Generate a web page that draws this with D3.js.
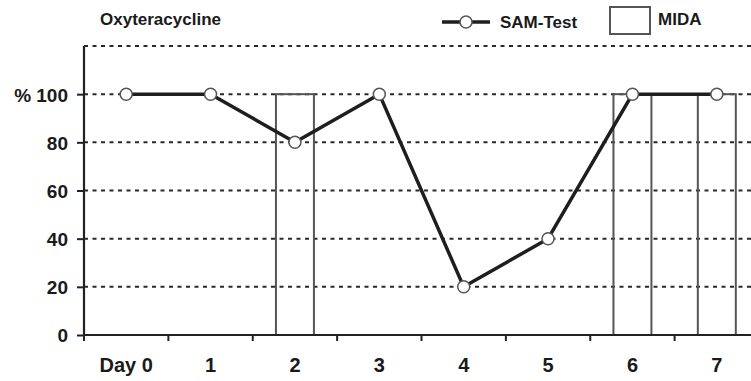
<!DOCTYPE html>
<html><head><meta charset="utf-8">
<script src="https://cdn.jsdelivr.net/npm/d3@7/dist/d3.min.js"></script>
<style>
html,body{margin:0;padding:0;background:#fff;}
svg{display:block;}
text{font-family:"Liberation Sans",Arial,sans-serif;font-weight:bold;fill:#1a1a1a;}
</style></head>
<body>
<svg id="chart" width="751" height="381"></svg>
<script>
const categories = ["Day 0","1","2","3","4","5","6","7"];
const samTest = [100,100,80,100,20,40,100,100];
const mida = [0,0,100,0,0,0,100,100];
const yTicks = [0,20,40,60,80,100];
const gridValues = [20,40,60,80,100,120];
const yTickLabels = ["0","20","40","60","80","% 100"];

const svg = d3.select("#chart");
const plotLeft = 84, plotBottom = 335, plotTop = 46;
const x = d3.scaleBand().domain(categories).range([plotLeft, 759]).paddingInner(0).paddingOuter(0);
const y = d3.scaleLinear().domain([0,120]).range([plotBottom, plotTop]);

// gridlines
svg.append("g").selectAll("line").data(gridValues).join("line")
  .attr("x1", plotLeft).attr("x2", 751)
  .attr("y1", d=>y(d)).attr("y2", d=>y(d))
  .attr("stroke","#2a2a2a").attr("stroke-width",2).attr("stroke-dasharray","4,4.5");

// bars
const bw = x.bandwidth()*0.45;
svg.append("g").selectAll("rect").data(categories.map((c,i)=>({c,v:mida[i]})).filter(d=>d.v>0)).join("rect")
  .attr("x", d=>x(d.c)+x.bandwidth()/2-bw/2)
  .attr("width", bw)
  .attr("y", d=>y(d.v))
  .attr("height", d=>y(0)-y(d.v))
  .attr("fill","none").attr("stroke","#555").attr("stroke-width",2);

// y axis
const yAxis = d3.axisLeft(y).tickValues(yTicks).tickSize(7).tickPadding(9)
  .tickFormat((d,i)=>yTickLabels[i]);
const gy = svg.append("g").attr("transform",`translate(${plotLeft},0)`).call(yAxis);
gy.select(".domain").remove();
gy.selectAll(".tick line").attr("stroke","#222").attr("stroke-width",2);
gy.selectAll(".tick text").style("font-size","19px").attr("fill","#1a1a1a").attr("dy","0.36em");
svg.append("line").attr("x1",plotLeft).attr("x2",plotLeft).attr("y1",plotTop).attr("y2",plotBottom+1)
  .attr("stroke","#222").attr("stroke-width",2.2);

// x axis
const gx = svg.append("g").attr("transform",`translate(0,${plotBottom})`);
gx.append("line").attr("x1",plotLeft).attr("x2",751).attr("y1",0).attr("y2",0)
  .attr("stroke","#222").attr("stroke-width",2.2);
gx.selectAll("line.tk").data(categories).join("line").attr("class","tk")
  .attr("x1",d=>x(d)).attr("x2",d=>x(d)).attr("y1",0).attr("y2",6)
  .attr("stroke","#222").attr("stroke-width",2);
gx.selectAll("text").data(categories).join("text")
  .attr("x",d=>x(d)+x.bandwidth()/2).attr("y",37)
  .attr("text-anchor","middle").style("font-size","20px").text(d=>d);

// line
const line = d3.line().x((d,i)=>x(categories[i])+x.bandwidth()/2).y(d=>y(d));
svg.append("path").datum(samTest).attr("d",line)
  .attr("fill","none").attr("stroke","#1e1e1e").attr("stroke-width",3.5).attr("stroke-linejoin","round");
svg.append("g").selectAll("circle").data(samTest).join("circle")
  .attr("cx",(d,i)=>x(categories[i])+x.bandwidth()/2).attr("cy",d=>y(d)).attr("r",6)
  .attr("fill","#fff").attr("stroke","#555").attr("stroke-width",1.5);

// title
svg.append("text").attr("x",100).attr("y",25).style("font-size","17px").text("Oxyteracycline");

// legend
svg.append("line").attr("x1",442).attr("x2",490).attr("y1",22).attr("y2",22)
  .attr("stroke","#1e1e1e").attr("stroke-width",3.5);
svg.append("circle").attr("cx",466).attr("cy",22).attr("r",6)
  .attr("fill","#fff").attr("stroke","#555").attr("stroke-width",1.5);
svg.append("text").attr("x",500).attr("y",28).style("font-size","17px").text("SAM-Test");
svg.append("rect").attr("x",610).attr("y",7).attr("width",40).attr("height",27)
  .attr("fill","none").attr("stroke","#555").attr("stroke-width",2);
svg.append("text").attr("x",658).attr("y",25).style("font-size","17px").text("MIDA");
</script>
</body></html>
